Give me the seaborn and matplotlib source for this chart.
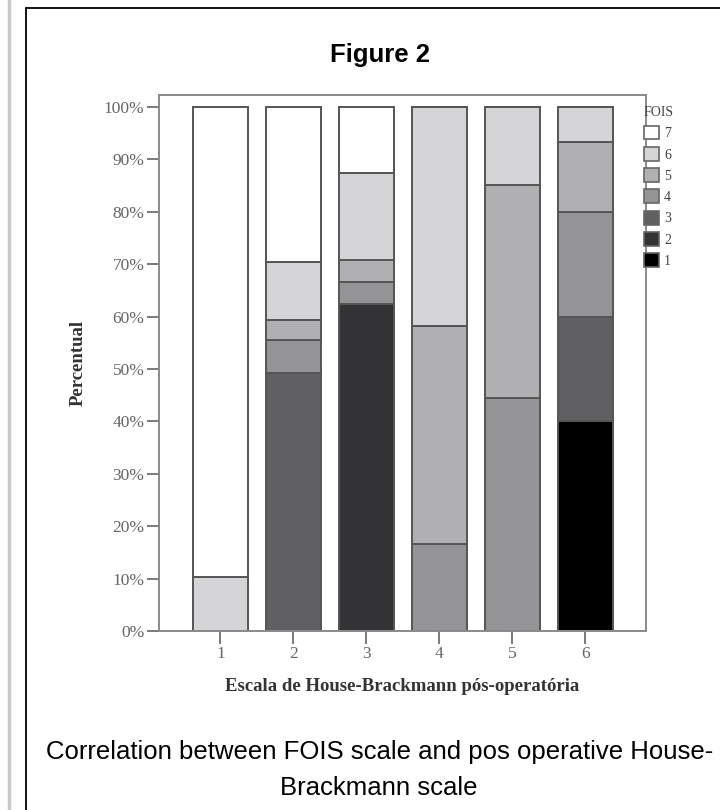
import numpy as np
import pandas as pd
import seaborn as sb
import matplotlib.pyplot as plt
from matplotlib.lines import Line2D
from matplotlib.patches import Patch

sb.set_style("white")
plt.rcParams['font.family'] = ['Liberation Serif', 'DejaVu Serif']

# House-Brackmann post-op grade on x, percent of patients per FOIS level
hb = [1, 2, 3, 4, 5, 6]
fois_levels = [7, 6, 5, 4, 3, 2, 1]
fois1 = [0, 0, 0, 0, 0, 40.0]
fois2 = [0, 0, 62.5, 0, 0, 0]
fois3 = [0, 49.2, 0, 0, 0, 20.0]
fois4 = [0, 6.4, 4.2, 16.7, 44.4, 20.0]
fois5 = [0, 3.8, 4.2, 41.6, 40.8, 13.3]
fois6 = [10.3, 11.1, 16.6, 41.7, 14.8, 6.7]
fois7 = [89.7, 29.5, 12.5, 0, 0, 0]
yticks = [0, 10, 20, 30, 40, 50, 60, 70, 80, 90, 100]

colours = {7: '#ffffff', 6: '#d5d5d7', 5: '#b0b0b2', 4: '#949496',
           3: '#606062', 2: '#333335', 1: '#000000'}

series = {1: fois1, 2: fois2, 3: fois3, 4: fois4, 5: fois5, 6: fois6, 7: fois7}
rows = []
for lvl, vals in series.items():
    for x, v in zip(hb, vals):
        rows.append({'HB': x, 'FOIS': lvl, 'pct': v})
df = pd.DataFrame(rows)

fig = plt.figure(figsize=(7.2, 8.1), dpi=100)
ax = fig.add_axes([159/720, 1-631/810, (646-159)/720, (631-95)/810])

sb.histplot(data=df, x='HB', weights='pct', hue='FOIS', hue_order=fois_levels,
            palette=colours, multiple='stack', discrete=True, shrink=0.75,
            edgecolor='#555555', linewidth=1.4, alpha=1, legend=False, ax=ax)

ax.set_xlim(0.16, 6.83)
ax.set_ylim(0, 102.3)
ax.set_xticks(hb)
ax.set_xticklabels([str(x) for x in hb])
ax.set_yticks(yticks)
ax.set_yticklabels([f'{t}%' for t in yticks])
ax.tick_params(axis='both', direction='out', length=9, width=1.4, color='#7a7a7a',
               labelcolor='#666666', labelsize=12.5, left=True, bottom=True, pad=1.5)
for s in ax.spines.values():
    s.set_color('#8a8a8a')
    s.set_linewidth(1.4)
ax.set_xlabel('Escala de House-Brackmann pós-operatória', fontsize=13.5,
              fontweight='bold', color='#333333', labelpad=12)
ax.set_ylabel('Percentual', fontsize=13.5, fontweight='bold', color='#333333', labelpad=12)

handles = [Patch(facecolor=colours[l], edgecolor='#666666', linewidth=1.2) for l in fois_levels]
leg = ax.legend(handles, [str(l) for l in fois_levels], title='FOIS',
                loc='upper left', bbox_to_anchor=(644/720, 1-106/810),
                bbox_transform=fig.transFigure, frameon=False, fontsize=10,
                title_fontsize=10, handlelength=1.05, handleheight=1.15,
                handletextpad=0.4, labelspacing=0.48, borderaxespad=0,
                borderpad=0, alignment='left')
for t in leg.get_texts():
    t.set_color('#444444')
leg.get_title().set_color('#444444')

# page frame
fig.add_artist(Line2D([9/720, 9/720], [0, 1], color='#c8c8c8', lw=2.5))
fig.add_artist(Line2D([26/720, 26/720], [0, 1-8/810], color='black', lw=1.3))
fig.add_artist(Line2D([26/720, 1], [1-8/810, 1-8/810], color='black', lw=1.3))

fig.text(380/720, 1-55/810, 'Figure 2', ha='center', va='center', fontsize=18.5,
         fontweight='bold', family='Liberation Sans', color='black')
fig.text(380/720, 1-752/810, 'Correlation between FOIS scale and pos operative House-',
         ha='center', va='center', fontsize=18.5, family='Liberation Sans', color='black')
fig.text(379/720, 1-788/810, 'Brackmann scale', ha='center', va='center',
         fontsize=18.5, family='Liberation Sans', color='black')

fig.savefig('out.png', dpi=100)
